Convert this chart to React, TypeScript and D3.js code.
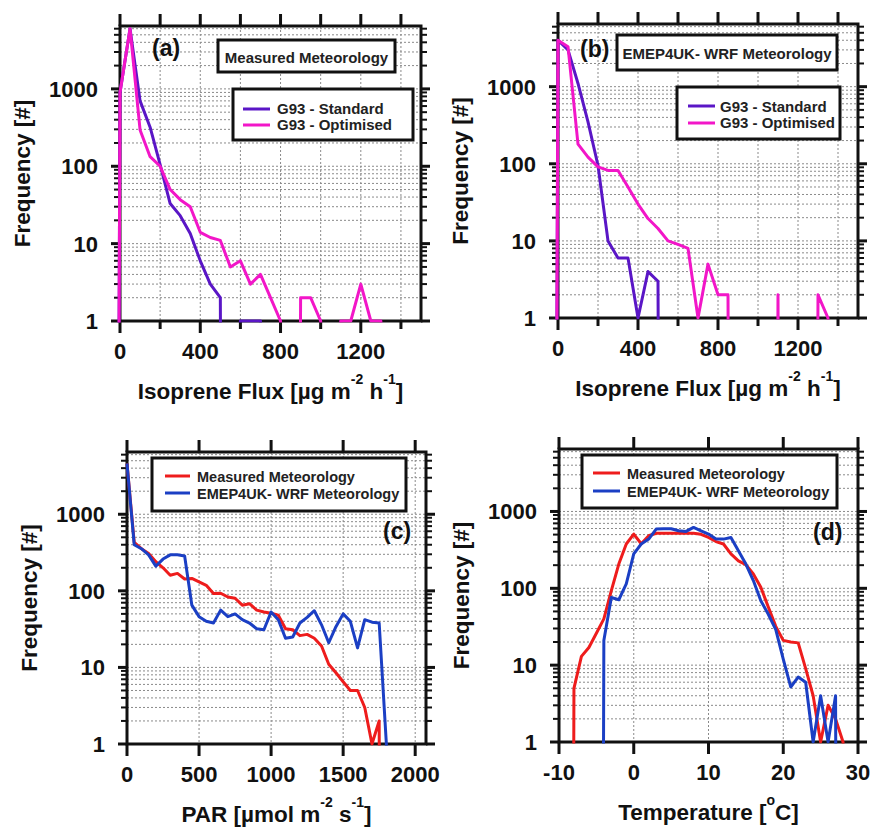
import React from "react";
import * as d3 from "d3";

// ---------- DATA ----------
// Panel (a): isoprene flux histogram, measured meteorology
const fluxBinsA = [-50, 0, 50, 100, 150, 200, 250, 300, 350, 400, 450, 500, 550, 600, 650, 700, 750, 800, 850, 900, 950, 1000, 1050, 1100, 1150, 1200, 1250, 1300, 1350];
const standardA = [0, 900, 6000, 700, 320, 105, 33, 23, 13.5, 6, 3, 2, 0, 1, 1, 1, 0, 0, 0, 0, 0, 0, 0, 0, 0, 0, 0, 0, 0];
const optimisedA = [0, 900, 6000, 295, 133, 100, 50, 37, 30, 14, 12, 11, 5, 6, 3, 4, 2, 1, 0, 2, 2, 1, 0, 1, 1, 3, 1, 1, 0];

// Panel (b): isoprene flux histogram, EMEP4UK-WRF meteorology
const fluxBinsB = [-50, 0, 50, 100, 150, 200, 250, 300, 350, 400, 450, 500, 550, 600, 650, 700, 750, 800, 850, 900, 950, 1000, 1050, 1100, 1150, 1200, 1250, 1300, 1350, 1400];
const standardB = [0, 4000, 3000, 1100, 350, 95, 10, 6, 6, 1, 4, 3, 0, 0, 0, 0, 0, 0, 0, 0, 0, 0, 0, 0, 0, 0, 0, 0, 0, 0];
const optimisedB = [0, 4000, 3300, 180, 122, 91, 82, 82, 50, 30, 19.5, 14.5, 10, 9, 8, 1, 5, 2, 2, 0, 0, 0, 0, 2, 0, 0, 0, 2, 1, 0];

// Panel (c): PAR histogram
const parBins = [0, 50, 100, 150, 200, 250, 300, 350, 400, 450, 500, 550, 600, 650, 700, 750, 800, 850, 900, 950, 1000, 1050, 1100, 1150, 1200, 1250, 1300, 1350, 1400, 1450, 1500, 1550, 1600, 1650, 1700, 1750, 1800, 1850];
const measuredPAR = [4600, 430, 355, 307, 240, 200, 160, 169, 143, 145, 131, 118, 92, 93, 83, 80, 65, 68, 56, 53, 51, 48, 32, 31, 26, 27, 24, 19, 11, 8.5, 6.5, 5, 5, 3, 1, 2, 0, 0];
const wrfPAR = [4600, 400, 355, 295, 210, 260, 295, 295, 285, 65, 46, 40, 38, 56, 46, 50, 42, 38, 32, 31, 53, 42, 24, 25, 38, 45, 55, 36, 21, 34, 50, 40, 18, 42, 39, 38, 1, 0];

// Panel (d): temperature histogram
const tempBins = [-10, -9, -8, -7, -6, -5, -4, -3, -2, -1, 0, 1, 2, 3, 4, 5, 6, 7, 8, 9, 10, 11, 12, 13, 14, 15, 16, 17, 18, 19, 20, 21, 22, 23, 24, 25, 26, 27, 28, 29];
const measuredT = [0, 0, 5, 13, 17, 26, 40, 93, 207, 377, 508, 380, 483, 520, 520, 520, 520, 520, 520, 505, 459, 406, 377, 280, 228, 203, 154, 103, 57, 32, 21, 20, 19.5, 9, 4, 1, 3, 2, 1, 0];
const wrfT = [0, 0, 0, 0, 0, 0, 21, 76, 71, 114, 280, 377, 437, 590, 595, 595, 560, 550, 620, 560, 508, 437, 437, 459, 308, 207, 126, 69, 46, 29, 12, 5.2, 7, 6, 1, 4, 1, 4, 0, 0];

// Axis ticks
const yDomain: [number, number] = [1, 6500];
const yMajorTicks = [1, 10, 100, 1000];
const fluxTicks = [0, 200, 400, 600, 800, 1000, 1200, 1400];
const fluxTickLabels = [0, 400, 800, 1200];
const parTicks = [0, 500, 1000, 1500, 2000];
const parTickLabels = [0, 500, 1000, 1500, 2000];
const tempTicks = [-10, 0, 10, 20, 30];
const tempTickLabels = [-10, 0, 10, 20, 30];

// Labels
const legendStandard = "G93 - Standard";
const legendOptimised = "G93 - Optimised";
const legendMeasured = "Measured Meteorology";
const legendWRF = "EMEP4UK- WRF Meteorology";

// ---------- STYLE ----------
const FONT = '"Liberation Sans", Arial, Helvetica, sans-serif';
const PURPLE = "#5a16c6";
const MAGENTA = "#f216c8";
const RED = "#ee1c1c";
const BLUE = "#1b3fc4";
const INK = "#111";

type Box = { l: number; r: number; t: number; b: number };
type Series = { values: number[]; color: string };

interface LegendItem { label: string; color: string }

interface PanelProps {
  box: Box;
  xDomain: [number, number];
  xs: number[];
  series: Series[];
  xTicks: number[];
  xLabels: number[];
  xTitle: React.ReactNode;
  id: string;
  tag: string;
  tagPos: [number, number];
  titleBox?: { x0: number; y0: number; x1: number; y1: number; text: string; baseline: number };
  legend: { x0: number; y0: number; x1: number; y1: number; lineX0: number; lineX1: number; textX: number; rows: { y: number; base: number }[]; items: LegendItem[]; fontSize: number };
}

function Panel(p: PanelProps) {
  const { box } = p;
  const x = d3.scaleLinear().domain(p.xDomain).range([box.l, box.r]);
  const y = d3.scaleLog().domain(yDomain).range([box.b, box.t]);
  const line = (vals: number[]) =>
    d3
      .line<number>()
      .x((_, i) => x(p.xs[i]))
      .y((d) => y(d > 0 ? d : 1e-30))(vals) || "";

  const gridY: number[] = [];
  const minorY: number[] = [];
  for (let k = 0; k < 4; k++) {
    for (let m = 1; m < 10; m++) {
      const v = m * Math.pow(10, k);
      if (v > yDomain[1]) continue;
      if (v > 1) gridY.push(v);
      if (m > 1) minorY.push(v);
    }
  }
  const cx = (box.l + box.r) / 2;
  const cy = (box.t + box.b) / 2;

  return (
    <g fontFamily={FONT} fontWeight="bold" fill={INK}>
      <defs>
        <clipPath id={"clip" + p.id}>
          <rect x={box.l - 4} y={box.t - 4} width={box.r - box.l + 8} height={box.b - box.t + 5.5} />
        </clipPath>
      </defs>
      {/* grid */}
      <g stroke="#8a8a8a" strokeWidth={1} strokeDasharray="2,2" fill="none">
        {gridY.map((v) => (
          <line key={"gy" + v} x1={box.l} x2={box.r} y1={y(v)} y2={y(v)} />
        ))}
        {p.xTicks
          .filter((v) => x(v) > box.l + 2 && x(v) < box.r - 2)
          .map((v) => (
            <line key={"gx" + v} x1={x(v)} x2={x(v)} y1={box.t} y2={box.b} />
          ))}
      </g>
      {/* y ticks */}
      <g stroke={INK} fill="none">
        {yMajorTicks.map((v) => (
          <g key={"ym" + v}>
            <line x1={box.l - 9} x2={box.l} y1={y(v)} y2={y(v)} strokeWidth={3} />
            <line x1={box.r} x2={box.r + 9} y1={y(v)} y2={y(v)} strokeWidth={3} />
          </g>
        ))}
        {minorY.map((v) => (
          <g key={"yn" + v}>
            <line x1={box.l - 6} x2={box.l} y1={y(v)} y2={y(v)} strokeWidth={2} />
            <line x1={box.r} x2={box.r + 6} y1={y(v)} y2={y(v)} strokeWidth={2} />
          </g>
        ))}
        {p.xTicks.map((v) => {
          const major = p.xLabels.includes(v);
          return (
            <g key={"xt" + v}>
              <line x1={x(v)} x2={x(v)} y1={box.t} y2={box.t - 12} strokeWidth={3} />
              <line x1={x(v)} x2={x(v)} y1={box.b} y2={box.b + (major ? 12 : 8)} strokeWidth={3} />
            </g>
          );
        })}
      </g>
      {/* frame */}
      <rect x={box.l} y={box.t} width={box.r - box.l} height={box.b - box.t} fill="none" stroke={INK} strokeWidth={3} />
      {/* data */}
      <g clipPath={`url(#clip${p.id})`} fill="none" strokeWidth={3} strokeLinejoin="round">
        {p.series.map((s, i) => (
          <path key={i} d={line(s.values)} stroke={s.color} />
        ))}
      </g>
      {/* tick labels */}
      <g fontSize={22}>
        {yMajorTicks.map((v) => (
          <text key={"yl" + v} x={box.l - 22} y={y(v) + 8} textAnchor="end">
            {String(v)}
          </text>
        ))}
        {p.xLabels.map((v) => (
          <text key={"xl" + v} x={x(v)} y={box.b + 38} textAnchor="middle">
            {String(v)}
          </text>
        ))}
      </g>
      {/* axis titles */}
      <text fontSize={22.5} transform={`translate(${box.l - 90},${cy}) rotate(-90)`} textAnchor="middle">
        Frequency [#]
      </text>
      <text fontSize={22.5} x={cx} y={box.b + 78} textAnchor="middle">
        {p.xTitle}
      </text>
      {/* panel tag */}
      <text fontSize={23} x={p.tagPos[0]} y={p.tagPos[1]}>
        {p.tag}
      </text>
      {/* title box */}
      {p.titleBox && (
        <g>
          <rect x={p.titleBox.x0} y={p.titleBox.y0} width={p.titleBox.x1 - p.titleBox.x0} height={p.titleBox.y1 - p.titleBox.y0} fill="#fff" stroke={INK} strokeWidth={3} />
          <text fontSize={15} x={(p.titleBox.x0 + p.titleBox.x1) / 2} y={p.titleBox.baseline} textAnchor="middle" fill="#222">
            {p.titleBox.text}
          </text>
        </g>
      )}
      {/* legend */}
      <rect x={p.legend.x0} y={p.legend.y0} width={p.legend.x1 - p.legend.x0} height={p.legend.y1 - p.legend.y0} fill="#fff" stroke={INK} strokeWidth={3} />
      {p.legend.items.map((it, i) => (
        <g key={"lg" + i}>
          <line x1={p.legend.lineX0} x2={p.legend.lineX1} y1={p.legend.rows[i].y} y2={p.legend.rows[i].y} stroke={it.color} strokeWidth={3} />
          <text fontSize={p.legend.fontSize} x={p.legend.textX} y={p.legend.rows[i].base} fill="#222">
            {it.label}
          </text>
        </g>
      ))}
    </g>
  );
}

const sup = (s: string) => (
  <tspan dy={-15} fontSize={14}>
    {s}
  </tspan>
);
const down = (s: string) => <tspan dy={15}>{s}</tspan>;

export default function App() {
  const fluxTitle = (
    <>
      {"Isoprene Flux [µg m"}
      {sup("-2")}
      {down(" h")}
      {sup("-1")}
      {down("]")}
    </>
  );
  const parTitle = (
    <>
      {"PAR [µmol m"}
      {sup("-2")}
      {down(" s")}
      {sup("-1")}
      {down("]")}
    </>
  );
  const tempTitle = (
    <>
      {"Temperature ["}
      {sup("o")}
      {down("C]")}
    </>
  );

  return (
    <svg width={871} height={827} style={{ position: "absolute", left: 0, top: 0, background: "#fff" }}>
      <rect x={0} y={0} width={871} height={827} fill="#fff" />
      <Panel
        id="a"
        box={{ l: 120, r: 421, t: 26, b: 321 }}
        xDomain={[0, 1500]}
        xs={fluxBinsA}
        series={[
          { values: standardA, color: PURPLE },
          { values: optimisedA, color: MAGENTA },
        ]}
        xTicks={fluxTicks}
        xLabels={fluxTickLabels}
        xTitle={fluxTitle}
        tag="(a)"
        tagPos={[152, 56]}
        titleBox={{ x0: 218, y0: 40, x1: 395, y1: 72, text: legendMeasured, baseline: 63 }}
        legend={{
          x0: 233, y0: 89, x1: 413, y1: 140, lineX0: 243, lineX1: 270, textX: 277,
          rows: [{ y: 109, base: 113.5 }, { y: 125, base: 130 }],
          items: [
            { label: legendStandard, color: PURPLE },
            { label: legendOptimised, color: MAGENTA },
          ],
          fontSize: 15,
        }}
      />
      <Panel
        id="b"
        box={{ l: 558, r: 858, t: 24, b: 318 }}
        xDomain={[0, 1500]}
        xs={fluxBinsB}
        series={[
          { values: standardB, color: PURPLE },
          { values: optimisedB, color: MAGENTA },
        ]}
        xTicks={fluxTicks}
        xLabels={fluxTickLabels}
        xTitle={fluxTitle}
        tag="(b)"
        tagPos={[580, 57]}
        titleBox={{ x0: 617, y0: 35, x1: 837, y1: 70, text: legendWRF, baseline: 58.5 }}
        legend={{
          x0: 677, y0: 87, x1: 840, y1: 139, lineX0: 688, lineX1: 715, textX: 720,
          rows: [{ y: 106, base: 111.5 }, { y: 123, base: 128 }],
          items: [
            { label: legendStandard, color: PURPLE },
            { label: legendOptimised, color: MAGENTA },
          ],
          fontSize: 15,
        }}
      />
      <Panel
        id="c"
        box={{ l: 127, r: 426, t: 452, b: 744 }}
        xDomain={[0, 2075]}
        xs={parBins}
        series={[
          { values: measuredPAR, color: RED },
          { values: wrfPAR, color: BLUE },
        ]}
        xTicks={parTicks}
        xLabels={parTickLabels}
        xTitle={parTitle}
        tag="(c)"
        tagPos={[383, 539]}
        legend={{
          x0: 152, y0: 458, x1: 406, y1: 511, lineX0: 165, lineX1: 190, textX: 197,
          rows: [{ y: 476, base: 481.5 }, { y: 493, base: 499 }],
          items: [
            { label: legendMeasured, color: RED },
            { label: legendWRF, color: BLUE },
          ],
          fontSize: 14.5,
        }}
      />
      <Panel
        id="d"
        box={{ l: 559, r: 858, t: 449, b: 742 }}
        xDomain={[-10, 30]}
        xs={tempBins}
        series={[
          { values: measuredT, color: RED },
          { values: wrfT, color: BLUE },
        ]}
        xTicks={tempTicks}
        xLabels={tempTickLabels}
        xTitle={tempTitle}
        tag="(d)"
        tagPos={[813, 540]}
        legend={{
          x0: 582, y0: 455, x1: 837, y1: 508, lineX0: 593, lineX1: 620, textX: 627,
          rows: [{ y: 473, base: 479 }, { y: 491, base: 496.5 }],
          items: [
            { label: legendMeasured, color: RED },
            { label: legendWRF, color: BLUE },
          ],
          fontSize: 14.5,
        }}
      />
    </svg>
  );
}
